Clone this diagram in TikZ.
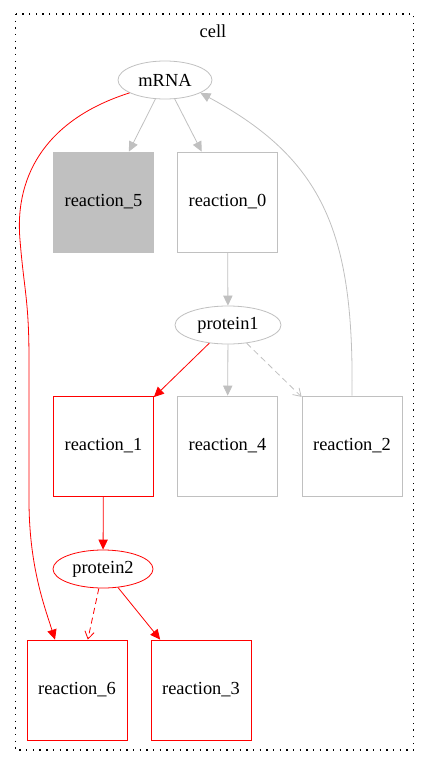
\documentclass[tikz,border=0pt]{standalone}
\usepackage{fontspec}
\setmainfont{Liberation Serif}
\usetikzlibrary{arrows.meta,calc,shapes.geometric}
\definecolor{lgray}{RGB}{192,192,192}
\tikzset{
  x=0.75pt, y=-0.75pt,
  every node/.style={font=\fontsize{13.8pt}{16pt}\selectfont, inner sep=0pt},
  species/.style={ellipse, draw, minimum width=#1, minimum height=28.5pt, line width=0.6pt},
  species/.default=71pt,
  rxn/.style={rectangle, draw, minimum width=75pt, minimum height=75pt, line width=0.6pt},
  link/.style={line width=0.6pt, -{Triangle[length=7.5pt,width=7pt]}},
  modlink/.style={line width=0.6pt, dash pattern=on 4.5pt off 3pt, -{Straight Barb[length=5.5pt,width=7pt,line width=0.6pt]}},
  greyed/.style={draw=lgray, color=lgray, text=black},
  hot/.style={draw=red, color=red, text=black},
}
\begin{document}
\begin{tikzpicture}
\useasboundingbox (0,0) rectangle (429,767);
% compartment
\draw[line width=1pt, dash pattern=on 1pt off 4pt] (15.5,14) rectangle (413.5,750);
\node (cell) at (213,31) {cell};

% species
\node[species=70.5pt, greyed] (mRNA) at (165,80) {mRNA};
\node[species=79.5pt, greyed] (p1) at (228,325) {protein1};
\node[species=75pt, hot] (p2) at (103,569) {protein2};

% reactions
\node[rxn, draw=lgray, fill=lgray] (r5) at (103.5,202) {reaction\_5};
\node[rxn, greyed] (r0) at (227.5,202) {reaction\_0};
\node[rxn, hot] (r1) at (103.5,446) {reaction\_1};
\node[rxn, greyed] (r4) at (227.5,446) {reaction\_4};
\node[rxn, greyed] (r2) at (352,446) {reaction\_2};
\node[rxn, hot] (r6) at (77,690) {reaction\_6};
\node[rxn, hot] (r3) at (201,690) {reaction\_3};

% connectors
\draw[link, lgray] (mRNA) -- (r5);
\draw[link, lgray] (mRNA) -- (r0);
\draw[link, lgray] (r0) -- (p1);
\draw[link, red] (p1) -- (r1);
\draw[link, lgray] (p1) -- (r4);
\draw[modlink, lgray] (p1) -- (r2);
\draw[link, lgray] (r2.north) .. controls (354,235) and (325,160) .. (mRNA.-20);
\draw[link, red] (r1) -- (p2);
\draw[modlink, red] (p2) -- (r6);
\draw[link, red] (p2) -- (r3);
\coordinate (r6in) at ($(r6.north)+(-22,0)$);
\draw[link, red] (mRNA.200) .. controls (50,118) and (14,172) .. (20,240)
  .. controls (24,290) and (29,300) .. (29,360)
  -- (29,500) .. controls (29,565) and (44,605) .. (r6in);
\end{tikzpicture}
\end{document}
